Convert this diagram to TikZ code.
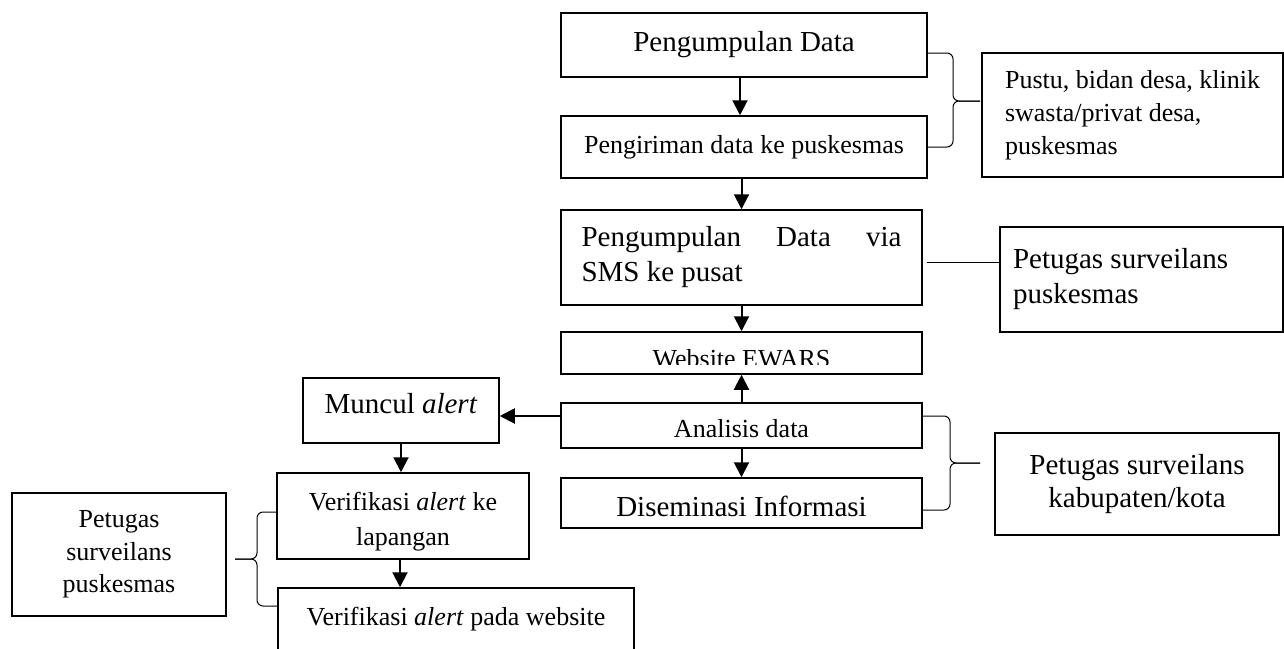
\documentclass[tikz,border=0pt]{standalone}
\usepackage{fontspec}
\setmainfont{Liberation Serif}
\usetikzlibrary{positioning,arrows.meta,calc}
\newcommand{\bigtxt}{\fontsize{29}{35}\selectfont}
\newcommand{\smtxt}{\fontsize{26}{33}\selectfont}

\begin{document}
\begin{tikzpicture}[x=1pt,y=-1pt,
    box/.style={draw, line width=1.5pt, inner sep=0pt},
    arr/.style={-{Triangle[length=15pt,width=15pt]}, line width=2pt},
    brc/.style={line width=1pt, rounded corners=6pt}]
  \useasboundingbox (0,0) rectangle (1284,648);
  \node[box, minimum width=366pt, minimum height=64pt, font=\bigtxt] (pd) at (744,45) {Pengumpulan Data};
  \node[box, minimum width=366pt, minimum height=62pt, font=\smtxt] (kirim) at (744,147) {Pengiriman data ke puskesmas};
  \node[box, minimum width=361pt, minimum height=95pt, font=\bigtxt, text width=320pt, align=flush left] (sms) at (741.5,257.5) {Pengumpulan\hfill Data\hfill via\\SMS ke pusat};
  \node[box, minimum width=361pt, minimum height=42pt] (web) at (741.5,353) {};
  \begin{scope}
    \clip (web.north west) rectangle ($(web.south east)+(0,-10)$);
    \node[font=\smtxt, anchor=base] (webtxt) at (741.5,367) {Website EWARS};
  \end{scope}
  \node[box, minimum width=361pt, minimum height=45pt, font=\smtxt, text height=23pt, text depth=0pt] (ana) at (741.5,425.5) {Analisis data};
  \node[box, minimum width=361pt, minimum height=50pt, font=\bigtxt, text height=26pt, text depth=0pt] (dis) at (741.5,503) {Diseminasi Informasi};
  \node[box, minimum width=196pt, minimum height=65pt, font=\bigtxt, text depth=15pt] (mun) at (401,410.5) {Muncul \textit{alert}};
  \node[box, minimum width=252pt, minimum height=86pt, font={\fontsize{26}{35}\selectfont}, align=center] (ver1) at (403,516) {\rule{0pt}{28.6pt}Verifikasi \textit{alert} ke\\lapangan};
  \node[box, minimum width=356pt, minimum height=62pt, font=\smtxt] (ver2) at (456,619) {Verifikasi \textit{alert} pada website};
  \node[box, minimum width=301pt, minimum height=124pt, font=\smtxt, align=left] (pustu) at (1132.5,115) {Pustu, bidan desa, klinik\\swasta/privat desa,\\puskesmas};
  \node[box, minimum width=283pt, minimum height=105pt, font=\bigtxt, text width=257pt, align=flush left] (pk) at (1141.5,279.5) {Petugas surveilans\\puskesmas};
  \node[box, minimum width=284pt, minimum height=102pt, font={\fontsize{29}{33}\selectfont}, align=center] (kab) at (1137,484) {Petugas surveilans\\kabupaten/kota};
  \node[box, minimum width=214pt, minimum height=123pt, font={\fontsize{26}{32.5}\selectfont}, align=center] (lp) at (119,554.5) {Petugas\\surveilans\\puskesmas};

  \draw[arr] ([xshift=-4pt]pd.south) -- ([xshift=-4pt]kirim.north);
  \draw[arr] (kirim.south -| sms.north) -- (sms.north);
  \foreach \a/\b in {sms/web, ana/dis}
    \draw[arr] (\a.south) -- (\b.north);
  \draw[arr] (ana.north) -- (web.south);
  \coordinate (a1) at ($(ana.west)+(0,-9.5)$);
  \draw[arr] (a1) -- (a1 -| mun.east);
  \draw[arr] (mun.south) -- (mun.south |- ver1.north);
  \coordinate (v1) at ($(ver1.south)+(-3,0)$);
  \draw[arr] (v1) -- (v1 |- ver2.north);

  \coordinate (l1) at ($(sms.east)+(4,4.5)$);
  \draw[line width=1pt] (l1) -- (l1 -| pk.west);

  \coordinate (b1) at (953,101);
  \coordinate (b1t) at (980,101);
  \draw[brc] ($(pd.east)+(0,8)$) -| (b1) -- (b1t);
  \draw[brc] (kirim.east) -| (b1) -- (b1t);
  \coordinate (b2) at (950,463);
  \coordinate (b2t) at (980,463);
  \draw[brc] ($(ana.east)+(0,-9.5)$) -| (b2) -- (b2t);
  \draw[brc] ($(dis.east)+(0,7)$) -| (b2) -- (b2t);
  \coordinate (b3) at (257,559);
  \coordinate (b3t) at (235,559);
  \draw[brc] ($(ver1.west)+(0,-4)$) -| (b3) -- (b3t);
  \draw[brc] ($(ver2.west)+(0,-13)$) -| (b3) -- (b3t);
\end{tikzpicture}
\end{document}
